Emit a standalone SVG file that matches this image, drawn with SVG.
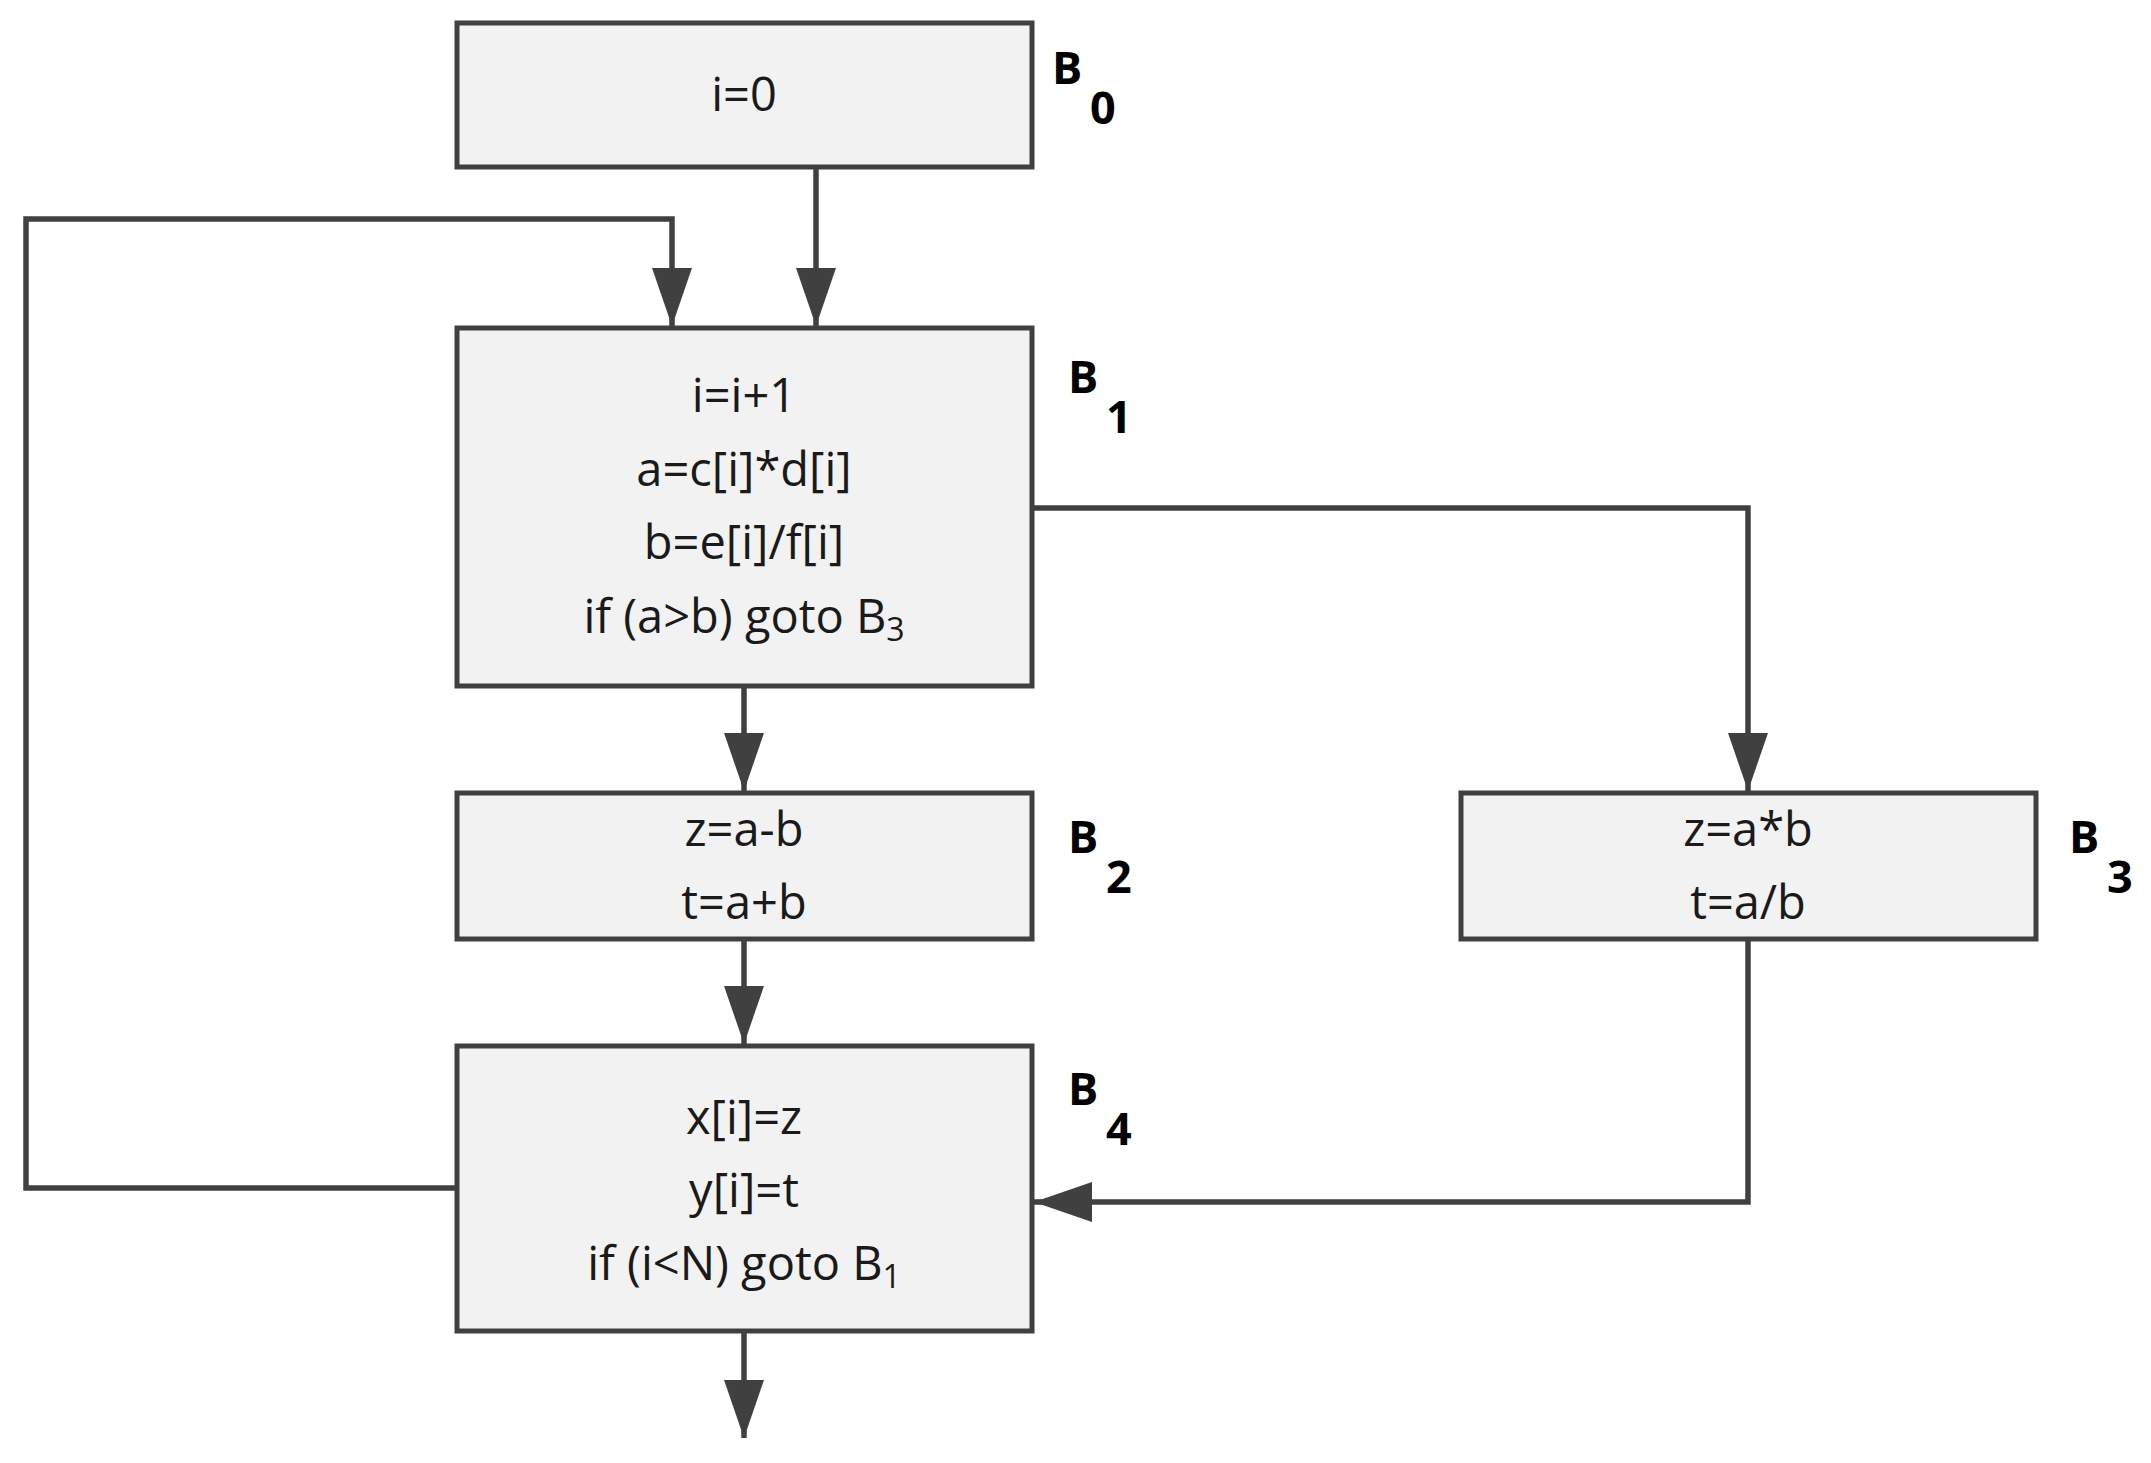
<svg xmlns="http://www.w3.org/2000/svg" width="2151" height="1463" viewBox="0 0 2151 1463">
<style>
.box{fill:#f2f2f2;stroke:#404040;stroke-width:5}
.t{font-family:"Open Sans","Liberation Sans",sans-serif;font-size:47px;fill:#1a1a1a;text-anchor:middle}
.l{font-family:"Open Sans","Liberation Sans",sans-serif;font-size:45px;font-weight:bold;fill:#000}
.c{fill:none;stroke:#404040;stroke-width:5.5}
</style>
<defs>
<marker id="a" markerUnits="userSpaceOnUse" markerWidth="58" markerHeight="40" viewBox="0 0 58 40" refX="58" refY="20" orient="auto"><path d="M0,0 L58,20 L0,40 Z" fill="#404040"/></marker>
</defs>
<rect width="2151" height="1463" fill="#fff"/>
<g id="connectors">
<path class="c" d="M816,167 V326" marker-end="url(#a)"/>
<path class="c" d="M457,1188 H26 V219 H672 V326" marker-end="url(#a)"/>
<path class="c" d="M1032,508 H1748 V791" marker-end="url(#a)"/>
<path class="c" d="M744,686 V791" marker-end="url(#a)"/>
<path class="c" d="M744,939 V1044" marker-end="url(#a)"/>
<path class="c" d="M1748,939 V1202 H1034" marker-end="url(#a)"/>
<path class="c" d="M744,1331 V1438" marker-end="url(#a)"/>
</g>
<g id="B0"><rect class="box" x="457" y="23" width="575" height="144"/><text class="t" x="744" y="111">i=0</text>
<text class="l" x="1052" y="84">B</text><text class="l" x="1090" y="124">0</text></g>
<g id="B1"><rect class="box" x="457" y="328" width="575" height="358"/>
<text class="t" x="744" y="412">i=i+1</text><text class="t" x="744" y="486">a=c[i]*d[i]</text><text class="t" x="744" y="559">b=e[i]/f[i]</text><text class="t" x="744" y="633">if (a&gt;b) goto B<tspan font-size="32" dy="8">3</tspan></text>
<text class="l" x="1068" y="393">B</text><text class="l" x="1106" y="433">1</text></g>
<g id="B2"><rect class="box" x="457" y="793" width="575" height="146"/>
<text class="t" x="744" y="846">z=a-b</text><text class="t" x="744" y="919">t=a+b</text>
<text class="l" x="1068" y="853">B</text><text class="l" x="1106" y="893">2</text></g>
<g id="B3"><rect class="box" x="1461" y="793" width="575" height="146"/>
<text class="t" x="1748" y="846">z=a*b</text><text class="t" x="1748" y="919">t=a/b</text>
<text class="l" x="2069" y="853">B</text><text class="l" x="2107" y="893">3</text></g>
<g id="B4"><rect class="box" x="457" y="1046" width="575" height="285"/>
<text class="t" x="744" y="1134">x[i]=z</text><text class="t" x="744" y="1207">y[i]=t</text><text class="t" x="744" y="1280">if (i&lt;N) goto B<tspan font-size="32" dy="8">1</tspan></text>
<text class="l" x="1068" y="1105">B</text><text class="l" x="1106" y="1145">4</text></g>
</svg>
